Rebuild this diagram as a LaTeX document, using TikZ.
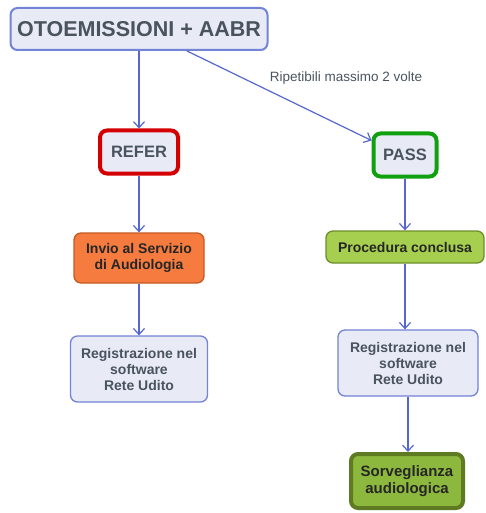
\documentclass[tikz,border=0pt]{standalone}
\usepackage{fontspec}
\setmainfont{Liberation Sans}
\usetikzlibrary{arrows.meta}
\definecolor{boxfill}{HTML}{E8EAF6}
\definecolor{boxline}{HTML}{7383D6}
\definecolor{arrowblue}{HTML}{5566D0}
\definecolor{textgrey}{HTML}{4A545E}
\definecolor{referred}{HTML}{D40000}
\definecolor{passgreen}{HTML}{10A010}
\definecolor{orangefill}{HTML}{F57B3E}
\definecolor{orangeline}{HTML}{C45A22}
\definecolor{limefill}{HTML}{A6CF50}
\definecolor{limeline}{HTML}{6E8E2A}
\definecolor{olivefill}{HTML}{8DB83E}
\definecolor{oliveline}{HTML}{5E7A22}
\tikzset{
  flowbox/.style={draw=boxline,fill=boxfill,line width=1.3pt,rounded corners=7pt,
    align=center,font=\fontsize{14}{16}\selectfont\bfseries,text=textgrey,inner sep=2pt},
  flowarrow/.style={draw=arrowblue,line width=1.2pt,-{Straight Barb[length=6pt,width=11pt]}}
}
\begin{document}
\begin{tikzpicture}[x=1pt,y=-1pt]
\useasboundingbox (0,0) rectangle (485,513);
%\draw[step=10,gray,very thin] (0,0) grid (485,513); %background grid
\node[flowbox,minimum width=257pt,minimum height=42pt,line width=2pt,
  font=\fontsize{21.5}{22}\selectfont\bfseries] (otoe) at (139,29) {OTOEMISSIONI + AABR};
\node[flowbox,draw=referred,line width=4pt,minimum width=78pt,minimum height=43pt,
  font=\fontsize{16.5}{17}\selectfont\bfseries] (refer) at (139,152) {REFER};
\node[flowbox,draw=passgreen,line width=4pt,minimum width=63pt,minimum height=43pt,
  font=\fontsize{16.5}{17}\selectfont\bfseries] (pass) at (405,155) {PASS};
\node[flowbox,fill=orangefill,draw=orangeline,text=black!85,minimum width=130pt,
  minimum height=50pt] (invio) at (139,258) {Invio al Servizio\\di Audiologia};
\node[flowbox,fill=limefill,draw=limeline,text=black!85,minimum width=158pt,
  minimum height=32pt] (concl) at (405,247) {Procedura conclusa};
\node[flowbox,minimum width=137pt,minimum height=66pt] (regl) at (139,369)
  {Registrazione nel\\software\\Rete Udito};
\node[flowbox,minimum width=140pt,minimum height=66pt] (regr) at (408,363)
  {Registrazione nel\\software\\Rete Udito};
\node[flowbox,fill=olivefill,draw=oliveline,line width=4pt,text=black!85,
  minimum width=112pt,minimum height=54pt,font=\fontsize{15}{17}\selectfont\bfseries] (sorv) at (407,481)
  {Sorveglianza\\audiologica};
\node[text=textgrey,font=\fontsize{13.5}{14}\selectfont] (ripet) at (346,78) {Ripetibili massimo 2 volte};
\draw[flowarrow] (otoe.south) -- (refer.north);
\draw[flowarrow] ([xshift=48pt]otoe.south) -- ([yshift=-9pt]pass.north west);
\draw[flowarrow] (refer.south) -- (invio.north);
\draw[flowarrow] (invio.south) -- (regl.north);
\draw[flowarrow] (pass.south) -- (concl.north);
\draw[flowarrow] (concl.south) -- (concl.south |- regr.north);
\draw[flowarrow] (regr.south) -- (regr.south |- sorv.north);
\end{tikzpicture}
\end{document}
